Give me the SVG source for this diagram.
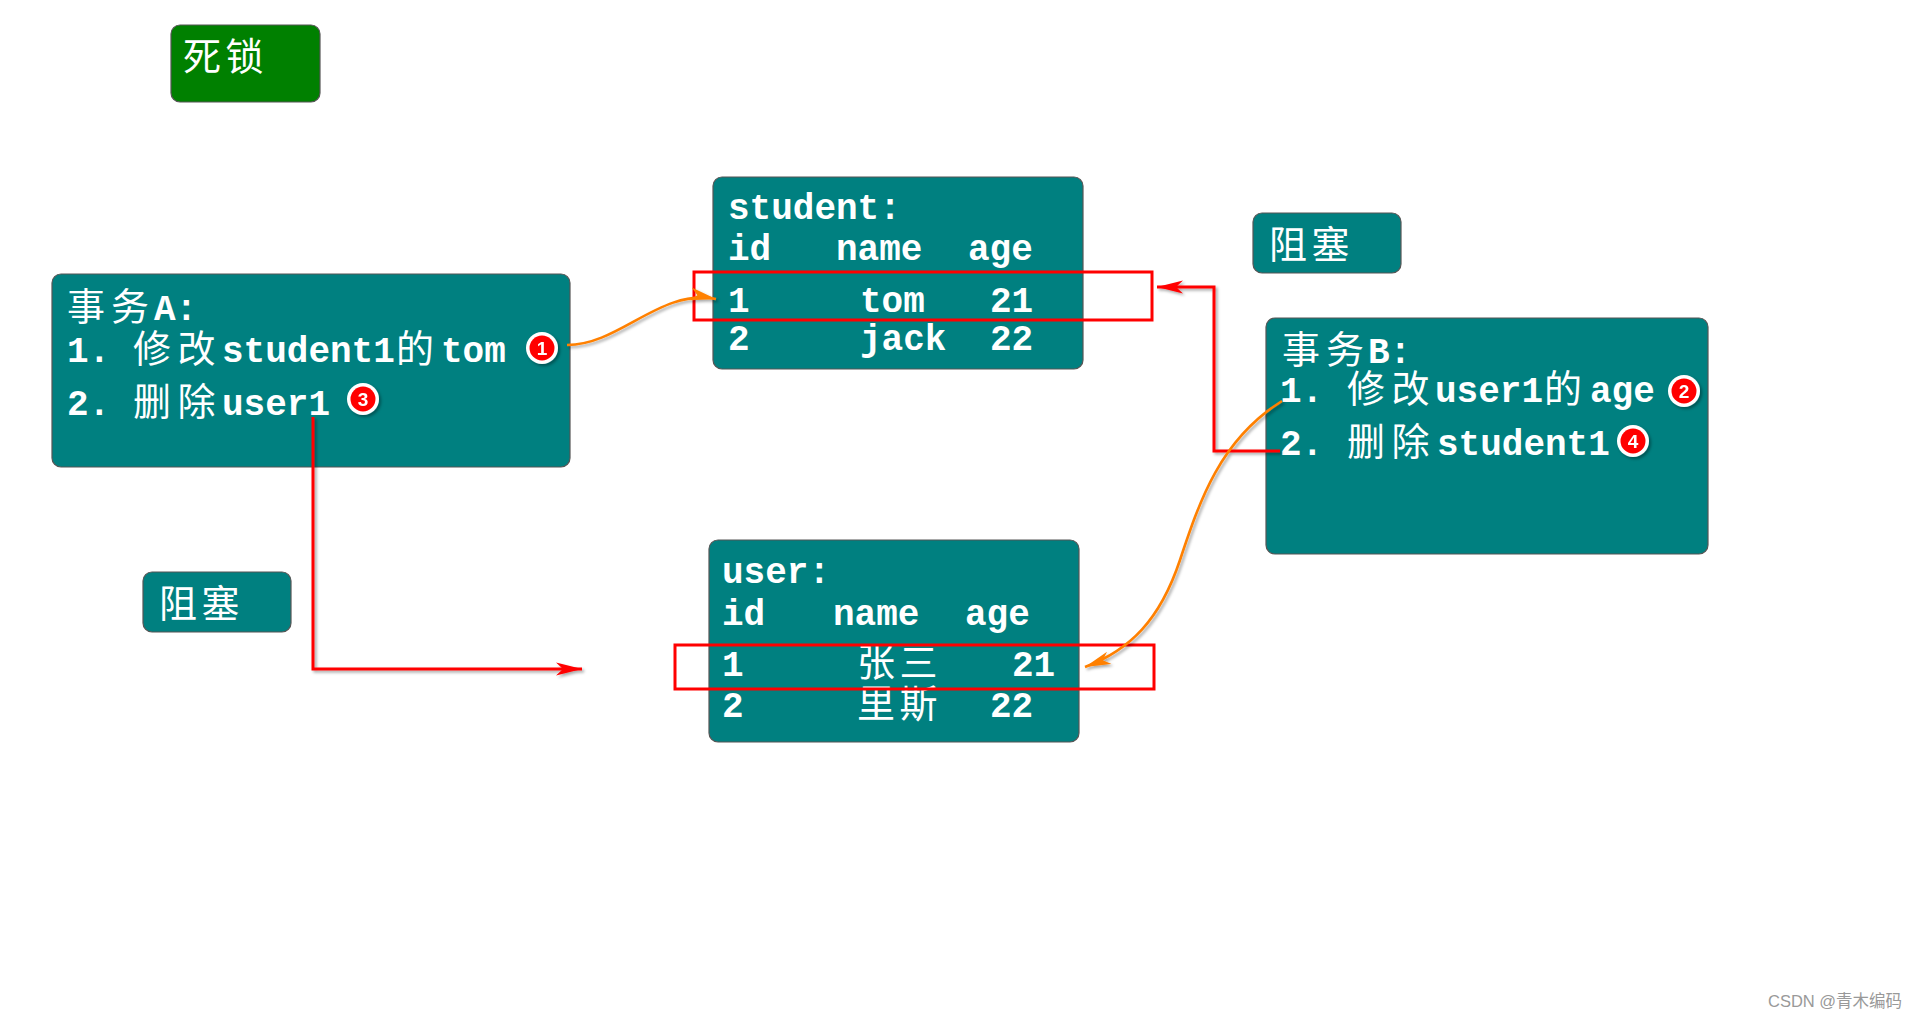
<svg xmlns="http://www.w3.org/2000/svg" width="1920" height="1020" viewBox="0 0 1920 1020">
<style>
.box{fill:#008080;stroke:#555;stroke-width:1.2}
.green{fill:#008000;stroke:#555;stroke-width:1.2}
.t{fill:#fff;font-family:"Liberation Mono","Noto Sans CJK SC",monospace;font-size:36px;font-weight:bold}
.c{font-family:"Noto Sans CJK SC",sans-serif;font-weight:normal;font-size:38px}
.hl{fill:none;stroke:#f00;stroke-width:3}
.red{fill:none;stroke:#f00;stroke-width:3;marker-end:url(#ar)}
.org{fill:none;stroke:#ff8000;stroke-width:2.6;marker-end:url(#ao)}
.bw{fill:#fff}
.br{fill:#f00}
.bn{fill:#fff;font-family:"Liberation Sans",Arial,sans-serif;font-weight:bold;font-size:19px;text-anchor:middle}
.wm{fill:#999;font-family:"Liberation Sans","Noto Sans CJK SC",sans-serif;font-size:16.5px}
</style>
<defs>
<filter id="sh" x="-20%" y="-20%" width="140%" height="140%">
<feDropShadow dx="2" dy="2" stdDeviation="1.5" flood-color="#000" flood-opacity="0.35"/>
</filter>
<marker id="ar" viewBox="0 0 26 14" refX="26" refY="7" markerWidth="26" markerHeight="14" markerUnits="userSpaceOnUse" orient="auto"><path d="M0,0.5 L26,7 L0,13.5 L7,7 Z" fill="#f00"/></marker>
<marker id="ao" viewBox="0 0 26 14" refX="26" refY="7" markerWidth="26" markerHeight="14" markerUnits="userSpaceOnUse" orient="auto"><path d="M0,0.5 L26,7 L0,13.5 L7,7 Z" fill="#ff8000"/></marker>
<g id="badge"><circle r="16" class="bw"/><circle r="12.5" class="br"/></g>
</defs>
<rect width="1920" height="1020" fill="#fff"/>

<g id="title">
<rect class="green" x="171" y="25" width="149" height="77" rx="9"/>
<text class="t" y="70"><tspan class="c" x="183" letter-spacing="4.5">死锁</tspan></text>
</g>

<g id="txA">
<rect class="box" x="52" y="274" width="518" height="193" rx="9"/>
<text class="t" y="320"><tspan class="c" x="67" letter-spacing="6">事务</tspan><tspan x="154">A:</tspan></text>
<text class="t" y="362"><tspan x="67">1.</tspan><tspan class="c" x="133" letter-spacing="6.5">修改</tspan><tspan x="222">student1</tspan><tspan class="c" x="396">的</tspan><tspan x="441">tom</tspan></text>
<text class="t" y="415"><tspan x="67">2.</tspan><tspan class="c" x="133" letter-spacing="6.5">删除</tspan><tspan x="222">user1</tspan></text>
<g filter="url(#sh)"><use href="#badge" x="542" y="348"/><text class="bn" x="542" y="355">1</text></g>
<g filter="url(#sh)"><use href="#badge" x="363" y="399"/><text class="bn" x="363" y="406">3</text></g>
</g>

<g id="txB">
<rect class="box" x="1266" y="318" width="442" height="236" rx="9"/>
<text class="t" y="363"><tspan class="c" x="1282" letter-spacing="6">事务</tspan><tspan x="1368">B:</tspan></text>
<text class="t" y="402"><tspan x="1280">1.</tspan><tspan class="c" x="1347" letter-spacing="6.5">修改</tspan><tspan x="1435">user1</tspan><tspan class="c" x="1544">的</tspan><tspan x="1590">age</tspan></text>
<text class="t" y="455"><tspan x="1280">2.</tspan><tspan class="c" x="1347" letter-spacing="6.5">删除</tspan><tspan x="1437">student1</tspan></text>
<g filter="url(#sh)"><use href="#badge" x="1684" y="391"/><text class="bn" x="1684" y="398">2</text></g>
<g filter="url(#sh)"><use href="#badge" x="1633" y="441"/><text class="bn" x="1633" y="448">4</text></g>
</g>

<g id="blockTop">
<rect class="box" x="1253" y="213" width="148" height="60" rx="9"/>
<text class="t" y="258"><tspan class="c" x="1269" letter-spacing="4.5">阻塞</tspan></text>
</g>

<g id="blockLeft">
<rect class="box" x="143" y="572" width="148" height="60" rx="9"/>
<text class="t" y="617"><tspan class="c" x="159" letter-spacing="4.5">阻塞</tspan></text>
</g>

<g id="student">
<rect class="box" x="713" y="177" width="370" height="192" rx="9"/>
<text class="t" x="728" y="219">student:</text>
<text class="t" y="260"><tspan x="728">id</tspan><tspan x="836">name</tspan><tspan x="968">age</tspan></text>
<text class="t" y="312"><tspan x="728">1</tspan><tspan x="860">tom</tspan><tspan x="990">21</tspan></text>
<text class="t" y="350"><tspan x="728">2</tspan><tspan x="860">jack</tspan><tspan x="990">22</tspan></text>
</g>

<g id="user">
<rect class="box" x="709" y="540" width="370" height="202" rx="9"/>
<text class="t" x="722" y="583">user:</text>
<text class="t" y="625"><tspan x="722">id</tspan><tspan x="833">name</tspan><tspan x="965">age</tspan></text>
<text class="t" y="676"><tspan x="722">1</tspan><tspan class="c" x="857" letter-spacing="4.5">张三</tspan><tspan x="1012">21</tspan></text>
<text class="t" y="717"><tspan x="722">2</tspan><tspan class="c" x="857" letter-spacing="4.5">里斯</tspan><tspan x="990">22</tspan></text>
</g>

<g id="highlights">
<rect class="hl" x="694" y="272" width="458" height="48"/>
<rect class="hl" x="675" y="645" width="479" height="44"/>
</g>

<g id="connectors" filter="url(#sh)">
<path class="red" d="M313,417 V669 H582"/>
<path class="red" d="M1280,451 H1214 V287 H1157"/>
<path class="org" d="M567,345 C620,345 660,288 716,299"/>
<path class="org" d="M1282,401 C1220,440 1200,500 1180,560 S1130,650 1085,667"/>
</g>

<text class="wm" x="1768" y="1007">CSDN @青木编码</text>
</svg>
